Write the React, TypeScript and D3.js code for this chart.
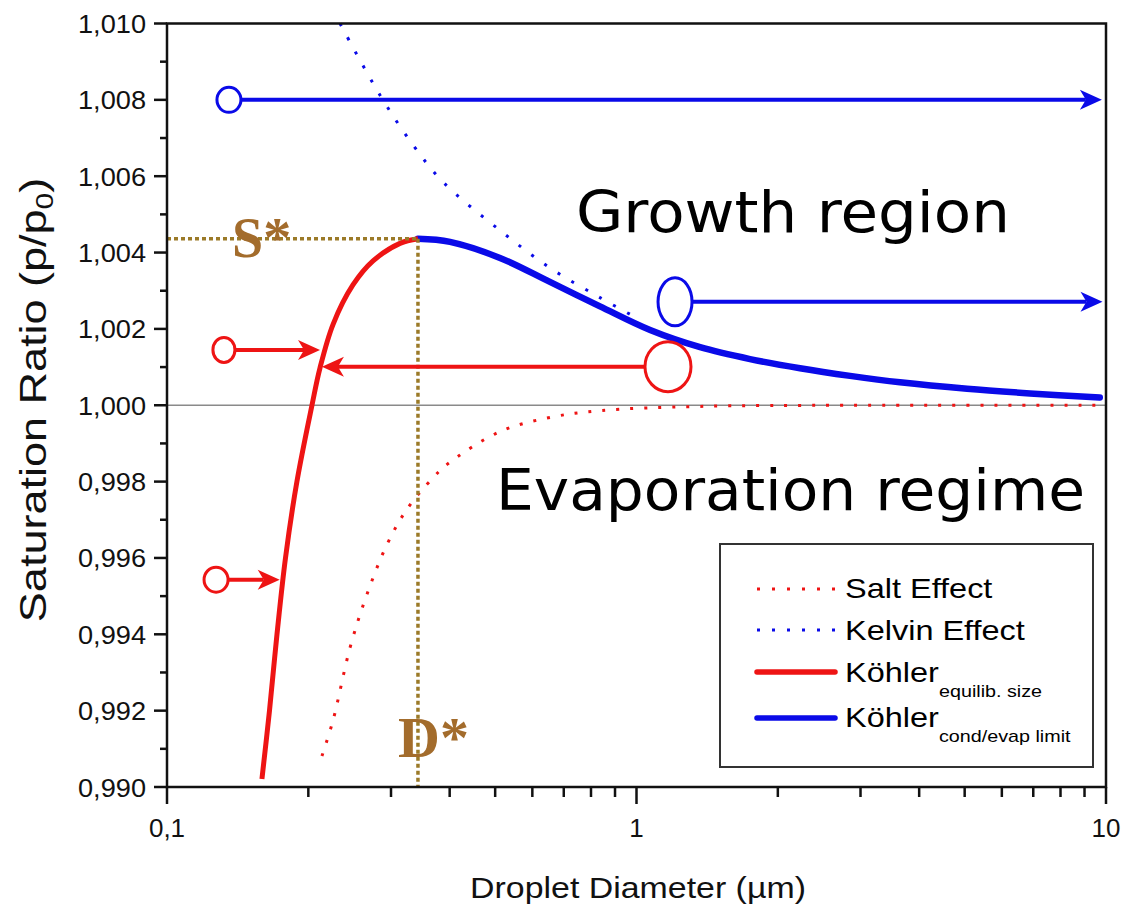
import React from 'react';
import * as d3 from 'd3';

const W = 1137;
const H = 906;

// x: droplet diameter (µm), y: saturation ratio
const xDomain = [0.1, 10];
const yDomain = [0.99, 1.01];
const xTickValues = [0.1, 1, 10];
const xTickLabels = ['0,1', '1', '10'];
const yMajorTicks = [0.99, 0.992, 0.994, 0.996, 0.998, 1.0, 1.002, 1.004, 1.006, 1.008, 1.01];
const yTickLabels = ['0,990', '0,992', '0,994', '0,996', '0,998', '1,000', '1,002', '1,004', '1,006', '1,008', '1,010'];

// Köhler curve, equilibrium-size branch (red)
const kohlerEqD = [0.1593, 0.1653, 0.1715, 0.1788, 0.1891, 0.2036, 0.2118, 0.2258, 0.2489, 0.2747, 0.3135, 0.3424];
const kohlerEqS = [0.99021, 0.992, 0.994, 0.996, 0.998, 1.0, 1.00098, 1.00212, 1.00315, 1.00378, 1.00424, 1.00436];

// Köhler curve, cond/evap limit branch (blue)
const kohlerLimD = [0.3424, 0.4007, 0.512, 0.654, 0.836, 1.069, 1.366, 1.745, 2.23, 2.85, 3.64, 5.06, 6.89, 9.7];
const kohlerLimS = [1.00436, 1.00428, 1.00386, 1.00323, 1.00259, 1.00197, 1.00152, 1.00121, 1.00097, 1.00077, 1.0006, 1.00043, 1.00031, 1.0002];

// Kelvin effect (blue dotted)
const kelvinD = [0.2336, 0.2843, 0.3342, 0.387, 0.512, 0.654, 0.836, 1.0174];
const kelvinS = [1.01, 1.00812, 1.00682, 1.00585, 1.00458, 1.0036, 1.00282, 1.00224];

// Salt effect (red dotted)
const saltD = [0.2138, 0.2258, 0.2454, 0.2667, 0.2941, 0.3245, 0.3686, 0.3949, 0.512, 0.654, 0.836, 1.366, 2.85, 9.7];
const saltS = [0.99081, 0.99175, 0.99365, 0.99505, 0.99635, 0.99728, 0.9981, 0.99845, 0.99931, 0.99968, 0.99986, 0.99997, 1.0, 1.0];

// critical point
const critD = 0.3424;
const critS = 1.00436;

// circle + arrow annotations: circle centre (D, S), arrow tip D
const annColor = ['blue', 'blue', 'red', 'red', 'red'];
const annCircleD = [0.1355, 1.208, 0.1322, 1.167, 0.1272];
const annS = [1.008, 1.00271, 1.00145, 1.00101, 0.99543];
const annTipD = [9.8, 9.83, 0.2118, 0.2138, 0.1738];
const annRx = [12, 17, 11, 23, 12];
const annRy = [12.5, 24, 12.5, 25, 12.5];

const RED = '#ee1414';
const BLUE = '#0a0ae8';
const BROWN = '#9b7a28';
const SANS = 'Liberation Sans, Arial, sans-serif';

function zip(a: number[], b: number[]): [number, number][] {
  return a.map((v, i) => [v, b[i]]);
}

export default function App() {
  const x = d3.scaleLog().domain(xDomain).range([167, 1106]);
  const y = d3.scaleLinear().domain(yDomain).range([787, 23.5]);

  const line = d3.line<[number, number]>()
    .x(d => x(d[0]))
    .y(d => y(d[1]))
    .curve(d3.curveCatmullRom.alpha(0.5));

  const xMinor = [0.2, 0.3, 0.4, 0.5, 0.6, 0.7, 0.8, 0.9, 2, 3, 4, 5, 6, 7, 8, 9];
  const yMinor = d3.range(0, 20).map(i => 0.991 + i * 0.002).filter(v => v < 1.01);

  const arrowHead = (tx: number, ty: number, dir: number, color: string) => {
    const L = 22, h = 10, n = 16;
    const pts = [
      [tx, ty],
      [tx - dir * L, ty - h],
      [tx - dir * n, ty],
      [tx - dir * L, ty + h],
    ];
    return <polygon points={pts.map(p => p.join(',')).join(' ')} fill={color} />;
  };

  return (
    <div style={{ position: 'absolute', left: 0, top: 0 }}>
      <svg width={W} height={H} style={{ display: 'block', background: '#fff' }}>
        {/* zero line */}
        <line x1={x(0.1)} x2={x(10)} y1={y(1)} y2={y(1)} stroke="#8a8a8a" strokeWidth={1.3} />

        {/* curves */}
        <path d={line(zip(saltD, saltS)) || ''} fill="none" stroke={RED} strokeWidth={3} strokeDasharray="3 11" />
        <path d={line(zip(kelvinD, kelvinS)) || ''} fill="none" stroke={BLUE} strokeWidth={3} strokeDasharray="3 13" />
        <path d={line(zip(kohlerLimD, kohlerLimS)) || ''} fill="none" stroke={BLUE} strokeWidth={6.5} strokeLinecap="round" />
        <path d={line(zip(kohlerEqD, kohlerEqS)) || ''} fill="none" stroke={RED} strokeWidth={5} strokeLinecap="butt" />

        {/* critical point guides */}
        <line x1={x(0.1)} x2={x(critD)} y1={y(critS)} y2={y(critS)} stroke={BROWN} strokeWidth={3.5} strokeDasharray="4 3" />
        <line x1={x(critD)} x2={x(critD)} y1={y(critS)} y2={y(0.99)} stroke={BROWN} strokeWidth={3.5} strokeDasharray="4 3" />
        <text x={232} y={257} fontFamily="Liberation Serif, Times New Roman, serif" fontWeight="bold" fontSize={56} fill="#a36c2c">S*</text>
        <text x={398} y={757} fontFamily="Liberation Serif, Times New Roman, serif" fontWeight="bold" fontSize={58} fill="#a36c2c">D*</text>

        {/* annotations: circles and arrows */}
        {annColor.map((c, i) => {
          const cx = x(annCircleD[i]);
          const cy = y(annS[i]);
          const tx = x(annTipD[i]);
          const dir = tx > cx ? 1 : -1;
          const sx = cx + dir * annRx[i];
          const col = c === 'blue' ? BLUE : RED;
          return (
            <g key={i}>
              <line x1={sx} x2={tx - dir * 16} y1={cy} y2={cy} stroke={col} strokeWidth={4} />
              {arrowHead(tx, cy, dir, col)}
              <ellipse cx={cx} cy={cy} rx={annRx[i]} ry={annRy[i]} fill="none" stroke={col} strokeWidth={3} />
            </g>
          );
        })}

        {/* region labels */}
        <text x={576} y={232} fontFamily="DejaVu Sans, Verdana, sans-serif" fontSize={57} textLength={434} lengthAdjust="spacingAndGlyphs">Growth region</text>
        <text x={496} y={510} fontFamily="DejaVu Sans, Verdana, sans-serif" fontSize={57} textLength={589} lengthAdjust="spacingAndGlyphs">Evaporation regime</text>

        {/* legend */}
        <rect x={720} y={544} width={373} height={223} fill="#fff" stroke="#333" strokeWidth={2} />
        <line x1={757} x2={835} y1={589} y2={589} stroke={RED} strokeWidth={3} strokeDasharray="3 12" />
        <line x1={757} x2={835} y1={630} y2={630} stroke={BLUE} strokeWidth={3} strokeDasharray="3 12" />
        <line x1={757} x2={835} y1={672} y2={672} stroke={RED} strokeWidth={5.5} strokeLinecap="round" />
        <line x1={757} x2={835} y1={718} y2={718} stroke={BLUE} strokeWidth={5.5} strokeLinecap="round" />
        <g fontFamily={SANS} fill="#000">
          <g transform="translate(845,598) scale(1.16,1)"><text fontSize={28}>Salt Effect</text></g>
          <g transform="translate(845,640) scale(1.16,1)"><text fontSize={28}>Kelvin Effect</text></g>
          <g transform="translate(845,682) scale(1.16,1)"><text fontSize={28}>Köhler</text></g>
          <g transform="translate(939,697) scale(1.16,1)"><text fontSize={17}>equilib. size</text></g>
          <g transform="translate(845,727) scale(1.16,1)"><text fontSize={28}>Köhler</text></g>
          <g transform="translate(939,742) scale(1.16,1)"><text fontSize={17}>cond/evap limit</text></g>
        </g>

        {/* frame */}
        <rect x={x(0.1)} y={y(1.01)} width={x(10) - x(0.1)} height={y(0.99) - y(1.01)} fill="none" stroke="#111" strokeWidth={2.5} />

        {/* y axis ticks */}
        {yMajorTicks.map((v, i) => (
          <g key={'ym' + i}>
            <line x1={x(0.1) - 13} x2={x(0.1)} y1={y(v)} y2={y(v)} stroke="#111" strokeWidth={2.5} />
            <text x={146} y={y(v) + 9.5} textAnchor="end" fontFamily={SANS} fontSize={26} textLength={68} lengthAdjust="spacingAndGlyphs" fill="#111">{yTickLabels[i]}</text>
          </g>
        ))}
        {yMinor.map((v, i) => (
          <line key={'yn' + i} x1={x(0.1) - 7} x2={x(0.1)} y1={y(v)} y2={y(v)} stroke="#111" strokeWidth={2.5} />
        ))}

        {/* x axis ticks */}
        {xTickValues.map((v, i) => (
          <g key={'xm' + i}>
            <line x1={x(v)} x2={x(v)} y1={y(0.99)} y2={y(0.99) + 17} stroke="#111" strokeWidth={2.5} />
            <text x={x(v)} y={837} textAnchor="middle" fontFamily={SANS} fontSize={26} fill="#111">{xTickLabels[i]}</text>
          </g>
        ))}
        {xMinor.map((v, i) => (
          <line key={'xn' + i} x1={x(v)} x2={x(v)} y1={y(0.99)} y2={y(0.99) + 10} stroke="#111" strokeWidth={2.5} />
        ))}

        {/* axis titles */}
        <g transform="translate(638,898) scale(1.13,1)">
          <text textAnchor="middle" fontFamily={SANS} fontSize={30} fill="#111">Droplet Diameter (µm)</text>
        </g>
        <g transform="translate(46,400) rotate(-90) scale(1.25,1)">
          <text textAnchor="middle" fontFamily={SANS} fontSize={36} fill="#111">
            Saturation Ratio (p/p<tspan fontSize={24} dy={7}>0</tspan><tspan dy={-7}>)</tspan>
          </text>
        </g>
      </svg>
    </div>
  );
}
